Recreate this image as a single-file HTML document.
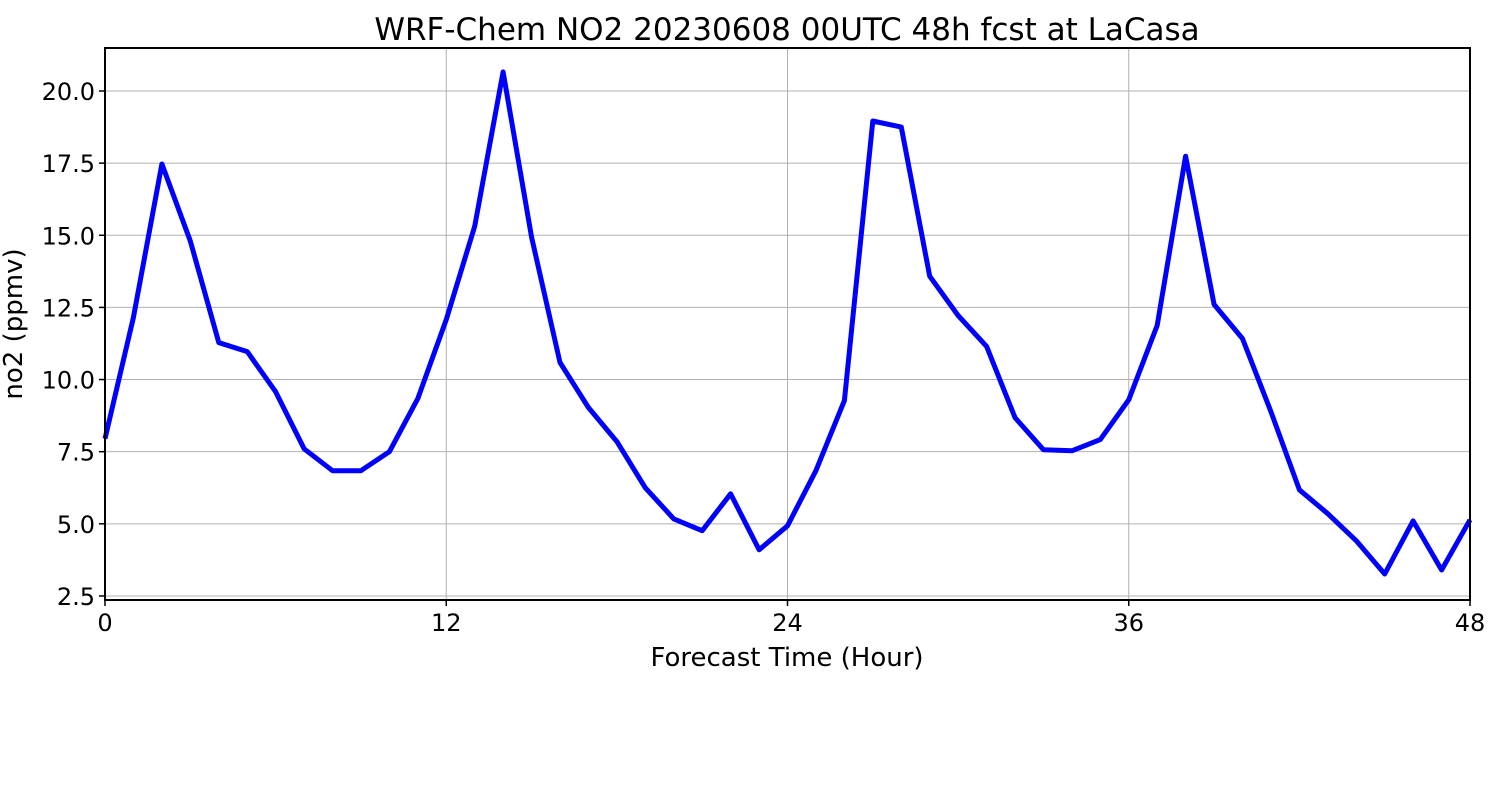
<!DOCTYPE html>
<html><head><meta charset="utf-8"><style>
body{margin:0;background:#fff;}
svg text{font-family:"DejaVu Sans","Liberation Sans",sans-serif;fill:#000;}
</style></head><body>
<svg id="chart" width="1500" height="800">
<rect width="1500" height="800" fill="#fff"/>
<g id="grid"></g>
<g id="ticks"></g>
<g id="series"></g>
<rect x="105" y="48" width="1365" height="552" fill="none" stroke="#000" stroke-width="2"/>
<text x="787" y="40" font-size="31" text-anchor="middle">WRF-Chem NO2  20230608 00UTC 48h fcst at LaCasa</text>
<text x="787" y="666" font-size="26" text-anchor="middle">Forecast Time (Hour)</text>
<text transform="translate(22,324) rotate(-90)" font-size="26" text-anchor="middle">no2  (ppmv)</text>
</svg>
<script>
const hours=[0,1,2,3,4,5,6,7,8,9,10,11,12,13,14,15,16,17,18,19,20,21,22,23,24,25,26,27,28,29,30,31,32,33,34,35,36,37,38,39,40,41,42,43,44,45,46,47,48];
const no2=[7.95,12.15,17.47,14.8,11.28,10.97,9.58,7.6,6.84,6.84,7.5,9.34,12.08,15.31,20.66,14.93,10.59,9.03,7.85,6.25,5.17,4.76,6.04,4.1,4.93,6.84,9.27,18.96,18.75,13.58,12.22,11.15,8.68,7.57,7.53,7.92,9.3,11.875,17.74,12.6,11.42,8.89,6.18,5.35,4.41,3.26,5.1,3.4,5.14];
const xTicks=[0,12,24,36,48];
const yTicks=[2.5,5.0,7.5,10.0,12.5,15.0,17.5,20.0];
const X0=105,X1=1470,Y0=48,Y1=600,xMin=0,xMax=48,yMin=2.36,yMax=21.49;
const xs=v=>X0+(v-xMin)/(xMax-xMin)*(X1-X0);
const ys=v=>Y1-(v-yMin)/(yMax-yMin)*(Y1-Y0);
const NS="http://www.w3.org/2000/svg";
const g=document.getElementById('grid'),t=document.getElementById('ticks'),s=document.getElementById('series');
function mk(tag,a,p){const e=document.createElementNS(NS,tag);for(const k in a)e.setAttribute(k,a[k]);p.appendChild(e);return e;}
xTicks.forEach(v=>{
 const x=xs(v);
 const l=mk('line',{x1:x,x2:x,y1:Y0,y2:Y1,stroke:'#b0b0b0','stroke-width':1},g);
 
 
 const tk=mk('line',{x1:x,x2:x,y1:Y1,y2:Y1+6,stroke:'#000','stroke-width':1.5},t);
 
 
 const tx=mk('text',{x:x,y:Y1+31,'font-size':24,'text-anchor':'middle'},t);
 tx.textContent=v;
 
 
});
yTicks.forEach(v=>{
 const y=ys(v);
 const l=mk('line',{x1:X0,x2:X1,y1:y,y2:y,stroke:'#b0b0b0','stroke-width':1},g);
 
 
 const tk=mk('line',{x1:X0-6,x2:X0,y1:y,y2:y,stroke:'#000','stroke-width':1.5},t);
 
 
 const tx=mk('text',{x:X0-10,y:y+9,'font-size':24,'text-anchor':'end'},t);
 tx.textContent=v.toFixed(1);
 
 
});
const pts=hours.map((h,i)=>xs(h).toFixed(1)+','+ys(no2[i]).toFixed(1)).join(' ');
const pl=mk('polyline',{points:pts,fill:'none',stroke:'#0000ff','stroke-width':5,'stroke-linejoin':'round'},s);


</script>
</body></html>
